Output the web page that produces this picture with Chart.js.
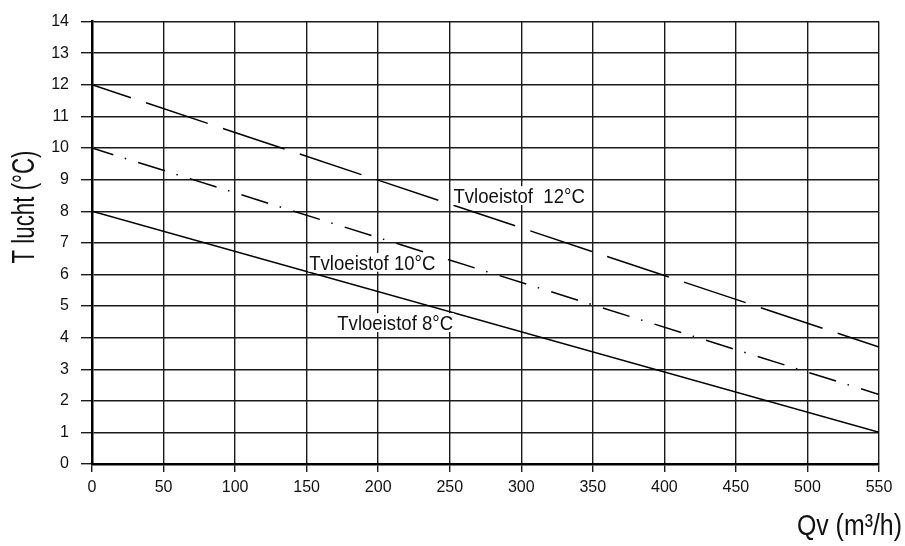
<!DOCTYPE html>
<html>
<head>
<meta charset="utf-8">
<script src="https://cdn.jsdelivr.net/npm/chart.js@4/dist/chart.umd.min.js"></script>
<style>
html,body{margin:0;padding:0;background:#fff;}
#wrap{width:905px;height:546px;position:relative;}
</style>
</head>
<body>
<div id="wrap"><canvas id="c" width="905" height="546"></canvas></div>
<script>
// ---- data ----
const qv = [0, 550];
const t12 = [12, 3.7];
const t10 = [10, 2.2];
const t8 = [8, 1];
const seriesNames = ["Tvloeistof  12°C", "Tvloeistof 10°C", "Tvloeistof 8°C"];
const labelQv = [252.6, 151.8, 171.4];
const labelT = [8.26, 6.15, 4.24];
const xTickValues = [0, 50, 100, 150, 200, 250, 300, 350, 400, 450, 500, 550];
const yTickValues = [0, 1, 2, 3, 4, 5, 6, 7, 8, 9, 10, 11, 12, 13, 14];
const xTitle = "Qv (m³/h)";
const yTitle = "T lucht (°C)";

const FONT = '"Liberation Sans", Arial, sans-serif';

function pts(ys) { return qv.map((x, i) => ({ x: x, y: ys[i] })); }

const textPlugin = {
  id: 'textPlugin',
  afterDatasetsDraw(chart) {
    const ctx = chart.ctx;
    const xs = chart.scales.x, ys = chart.scales.y;
    ctx.save();
    // series labels with white background (condensed)
    const size = 21, sx = 0.885;
    ctx.font = size + 'px ' + FONT;
    ctx.textBaseline = 'alphabetic';
    ctx.textAlign = 'left';
    seriesNames.forEach((name, i) => {
      const px = xs.getPixelForValue(labelQv[i]);
      const py = ys.getPixelForValue(labelT[i]);
      const w = ctx.measureText(name).width * sx;
      ctx.fillStyle = '#fff';
      ctx.fillRect(px - 1, py - size * 0.8, w + 2, size * 0.8 + 2);
      ctx.save();
      ctx.translate(px, py);
      ctx.scale(sx, 1);
      ctx.fillStyle = '#111';
      ctx.fillText(name, 0, 0);
      ctx.restore();
    });
    // y axis title
    ctx.save();
    ctx.translate(34, 207);
    ctx.rotate(-Math.PI / 2);
    ctx.scale(0.72, 1);
    ctx.font = '31px ' + FONT;
    ctx.textAlign = 'center';
    ctx.fillStyle = '#111';
    ctx.fillText(yTitle, 0, 0);
    ctx.restore();
    // x axis title
    ctx.save();
    ctx.translate(902, 535);
    ctx.scale(0.83, 1);
    ctx.font = '30px ' + FONT;
    ctx.textAlign = 'right';
    ctx.fillStyle = '#111';
    ctx.fillText(xTitle, 0, 0);
    ctx.restore();
    ctx.restore();
  }
};

new Chart(document.getElementById('c'), {
  type: 'line',
  data: {
    datasets: [
      { label: seriesNames[0], data: pts(t12), borderColor: '#000', borderWidth: 1.5,
        borderDash: [65, 16], borderDashOffset: 24, pointRadius: 0, tension: 0 },
      { label: seriesNames[1], data: pts(t10), borderColor: '#000', borderWidth: 1.5,
        borderDash: [28, 12, 1.5, 12.6], borderDashOffset: 5.7, pointRadius: 0, tension: 0 },
      { label: seriesNames[2], data: pts(t8), borderColor: '#000', borderWidth: 1.5,
        pointRadius: 0, tension: 0 }
    ]
  },
  options: {
    responsive: false,
    animation: false,
    devicePixelRatio: 1,
    layout: { padding: { top: 19, right: 26, left: 0, bottom: 0 } },
    plugins: { legend: { display: false }, tooltip: { enabled: false } },
    scales: {
      x: {
        type: 'linear', min: 0, max: 550,
        afterBuildTicks(s) { s.ticks = xTickValues.map(v => ({ value: v })); },
        afterFit(s) { s.height = 82; },
        grid: { color: '#1a1a1a', lineWidth: 1.4, tickLength: 8, drawTicks: true },
        border: { color: '#000', width: 2.5 },
        ticks: { color: '#111', font: { family: FONT, size: 16 }, padding: 6, maxRotation: 0, autoSkip: false }
      },
      y: {
        type: 'linear', min: 0, max: 14,
        afterBuildTicks(s) { s.ticks = yTickValues.map(v => ({ value: v })); },
        afterFit(s) { s.width = 92; },
        grid: { color: '#1a1a1a', lineWidth: 1.4, tickLength: 11, drawTicks: true },
        border: { color: '#000', width: 2.5 },
        ticks: { color: '#111', font: { family: FONT, size: 16 }, padding: 12, autoSkip: false }
      }
    }
  },
  plugins: [textPlugin]
});
</script>
</body>
</html>
